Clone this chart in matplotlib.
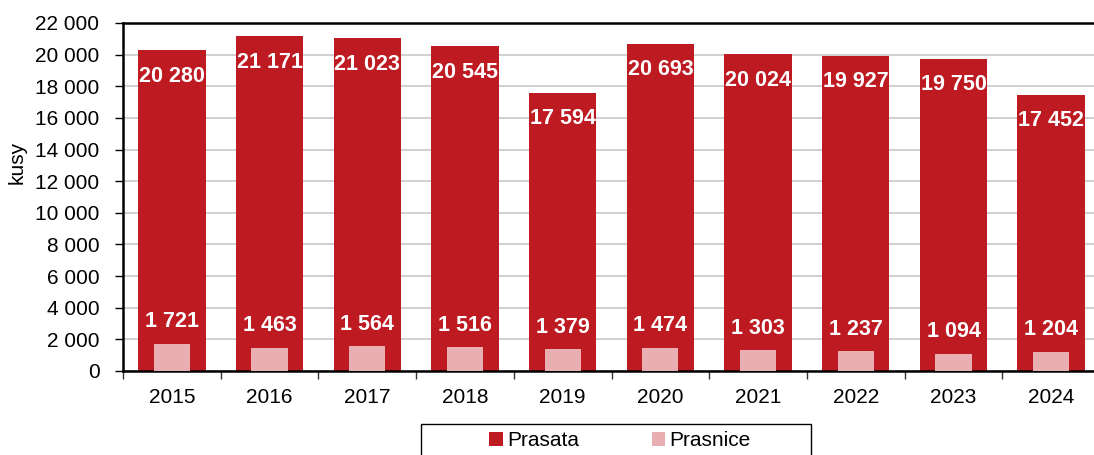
import matplotlib
matplotlib.use("Agg")
import matplotlib.pyplot as plt
from matplotlib.patches import Patch, Rectangle
from matplotlib.ticker import FuncFormatter, MultipleLocator
import numpy as np

years = ["2015", "2016", "2017", "2018", "2019", "2020", "2021", "2022", "2023", "2024"]
prasata = [20280, 21171, 21023, 20545, 17594, 20693, 20024, 19927, 19750, 17452]
prasnice = [1721, 1463, 1564, 1516, 1379, 1474, 1303, 1237, 1094, 1204]
series_names = ["Prasata", "Prasnice"]

c_prasata = "#BE1A22"
c_prasnice = "#E8AEB1"

plt.rcParams['font.family'] = ['Liberation Sans', 'DejaVu Sans']

W, H = 1094, 455
fig = plt.figure(figsize=(W / 100, H / 100), dpi=100)
ax_left, ax_right = 123, 1100
ax_top, ax_bottom = 23, 371
ax = fig.add_axes([ax_left / W, 1 - ax_bottom / H, (ax_right - ax_left) / W, (ax_bottom - ax_top) / H])

x = np.arange(len(years))
ax.bar(x, prasata, width=0.69, color=c_prasata, zorder=2)
ax.bar(x, prasnice, width=0.37, color=c_prasnice, zorder=3)

fmt = lambda v: f"{int(v):,}".replace(",", " ")

for xi, v in zip(x, prasata):
    ax.annotate(fmt(v), (xi, v), xytext=(0, -26), textcoords="offset pixels",
                ha="center", va="center", color="white", fontweight="bold", fontsize=15.5, zorder=5)
for xi, v in zip(x, prasnice):
    ax.annotate(fmt(v), (xi, v), xytext=(0, 22), textcoords="offset pixels",
                ha="center", va="center", color="white", fontweight="bold", fontsize=15.5, zorder=5)

ax.set_xlim(-0.5, len(years) - 0.5)
ax.set_ylim(0, 22000)
ax.yaxis.set_major_locator(MultipleLocator(2000))
ax.yaxis.set_major_formatter(FuncFormatter(lambda v, p: fmt(v)))
ax.grid(axis="y", color="#C8C8C8", linewidth=1.2, zorder=0)
ax.set_axisbelow(True)

ax.set_xticks(x)
ax.set_xticklabels(years, fontsize=15)
ax.set_xticks(np.arange(-0.5, len(years), 1), minor=True)
ax.tick_params(axis="x", which="major", length=0, pad=12)
ax.tick_params(axis="x", which="minor", length=6, direction="out", width=1.0, color="#333333")
ax.tick_params(axis="y", labelsize=15, length=6, width=1.0, pad=11, direction="out")

for s in ["left", "bottom", "top"]:
    ax.spines[s].set_color("black")
    ax.spines[s].set_linewidth(1.8)
ax.spines["right"].set_visible(False)

ax.set_ylabel("kusy", fontsize=15)
ax.yaxis.set_label_coords(-0.099, 0.598)

# legend frame
fig.add_artist(Rectangle((421 / W, -0.1), 390 / W, 0.1 + (1 - 424 / H),
                         transform=fig.transFigure, facecolor="white", edgecolor="black",
                         linewidth=1.0, clip_on=False))
handles = [Patch(facecolor=c_prasata, edgecolor="none"), Patch(facecolor=c_prasnice, edgecolor="none")]
fig.legend(handles, series_names, loc="center", bbox_to_anchor=(620 / W, 1 - 441 / H),
           ncol=2, frameon=False, fontsize=15, handlelength=0.65, handleheight=0.65,
           handletextpad=0.2, columnspacing=3.5)

fig.savefig("out.png", dpi=100)
